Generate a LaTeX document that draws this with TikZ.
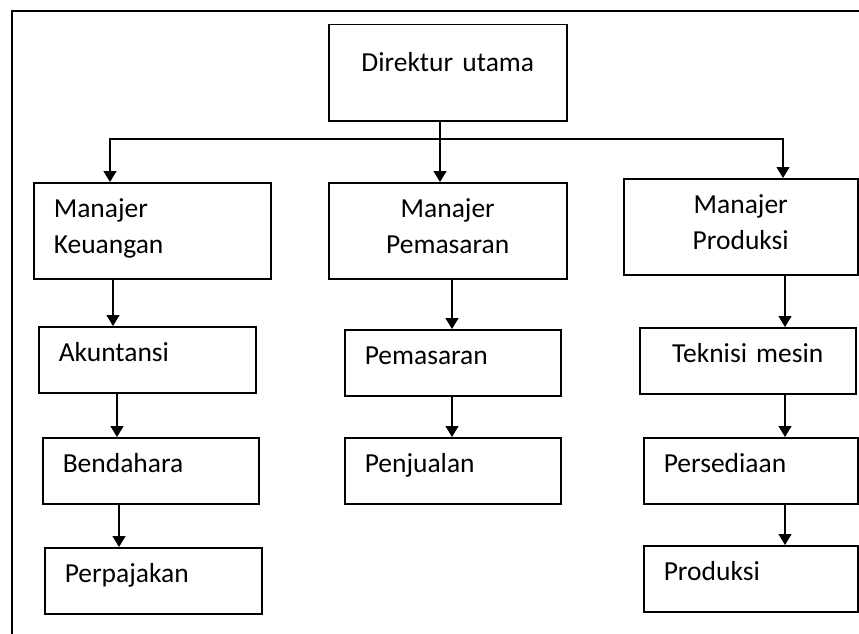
\documentclass[tikz,border=0pt]{standalone}
\usepackage{fontspec}
\setmainfont{Carlito}
\usetikzlibrary{arrows.meta}

\begin{document}
\begin{tikzpicture}[x=1pt,y=-1pt,>={Triangle[length=11pt,width=13pt]},
box/.style={draw,line width=1.5pt,anchor=north west,inner xsep=20pt,inner ysep=0pt,
  text height=35pt,text depth=31pt,font=\fontsize{27.5}{36}\selectfont},
two/.style={box,text depth=61pt},
lft/.style={align=left},
mid/.style={align=center},
arr/.style={->,line width=1.3pt}]
\useasboundingbox (0,0) rectangle (859,634);
\draw[line width=2.5pt] (12,650) |- (870,11); % frame
\path
(328,24) node[box,mid,text width=198pt,text height=47pt,text depth=49pt] (dir) {Direktur utama}
(33,182) node[two,lft,text width=197pt] (mk) {Manajer\\Keuangan}
(328,182) node[two,mid,text width=198pt] (mp) {Manajer\\Pemasaran}
(623,178) node[two,mid,text width=194pt] (mpr) {Manajer\\Produksi}
(38,326) node[box,lft,text width=177pt] (ak) {Akuntansi}
(42,437) node[box,lft,text width=176pt] (bd) {Bendahara}
(44,547) node[box,lft,text width=177pt] (pj) {Perpajakan}
(344,329) node[box,lft,text width=176pt] (ps) {Pemasaran}
(344,437) node[box,lft,text width=176pt] (pn) {Penjualan}
(639,327) node[box,mid,text width=176pt] (tm) {Teknisi mesin}
(643,437) node[box,lft,text width=174pt] (sd) {Persediaan}
(643,545) node[box,lft,text width=174pt] (pr) {Produksi}
;
\coordinate (bus) at (440,139);
\draw[arr] (dir.south -| bus) -- (mp.north -| bus);
\draw[arr] (bus) -| (mk.north -| 110,0);
\draw[arr] (bus) -| (mpr.north -| 783,0);
\foreach \a/\b/\x in {mk/ak/113,ak/bd/117,bd/pj/119,mp/ps/452,ps/pn/452,
  mpr/tm/785,tm/sd/785,sd/pr/785}
  \draw[arr] (\a.south -| \x,0) -- (\b.north -| \x,0);
\end{tikzpicture}
\end{document}
